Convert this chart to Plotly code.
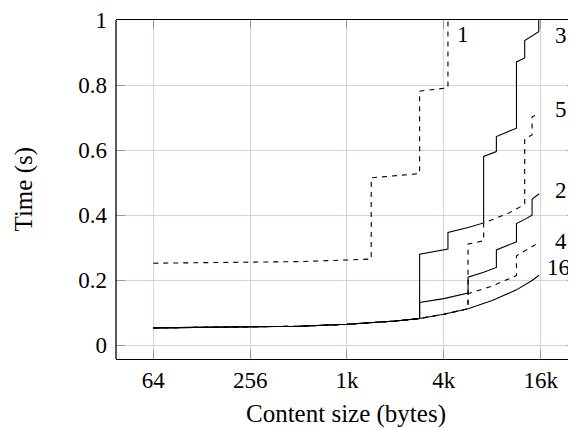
import numpy as np
import plotly.graph_objects as go

# ---- data (content size in bytes, time in seconds) ----
s1_x = [64, 128, 256, 512, 1024, 1448, 1448, 2048, 2896, 2896, 4344, 4344]
s1_y = [0.252, 0.253, 0.254, 0.257, 0.262, 0.265, 0.515, 0.521, 0.528, 0.782, 0.792, 1.2]

s5_x = [64, 128, 256, 512, 1024, 1448, 2048, 2896, 4096, 5792, 5792, 7240, 7240, 10240, 13032, 13032, 14480, 14480, 16000]
s5_y = [0.053, 0.054, 0.055, 0.058, 0.064, 0.068, 0.074, 0.082, 0.095, 0.112, 0.311, 0.321, 0.376, 0.405, 0.433, 0.635, 0.647, 0.703, 0.713]

s4_x = [64, 128, 256, 512, 1024, 1448, 2048, 2896, 4096, 5792, 5792, 8192, 11584, 11584, 14480, 16000]
s4_y = [0.053, 0.054, 0.055, 0.058, 0.064, 0.068, 0.074, 0.082, 0.095, 0.112, 0.158, 0.182, 0.214, 0.275, 0.302, 0.316]

s3_x = [64, 128, 256, 512, 1024, 1448, 2048, 2896, 2896, 4344, 4344, 5792, 7240, 7240, 8688, 8688, 10240, 11584, 11584, 13032, 13032, 15928, 15928]
s3_y = [0.053, 0.054, 0.055, 0.058, 0.064, 0.068, 0.074, 0.082, 0.280, 0.296, 0.347, 0.362, 0.376, 0.581, 0.596, 0.642, 0.656, 0.668, 0.872, 0.884, 0.938, 0.965, 1.2]

s2_x = [64, 128, 256, 512, 1024, 1448, 2048, 2896, 2896, 4096, 5792, 5792, 7240, 8688, 8688, 11584, 11584, 13032, 14480, 14480, 16000]
s2_y = [0.053, 0.054, 0.055, 0.058, 0.064, 0.068, 0.074, 0.082, 0.131, 0.143, 0.160, 0.209, 0.224, 0.239, 0.293, 0.318, 0.374, 0.387, 0.400, 0.449, 0.466]

s16_x = [64, 128, 256, 512, 1024, 1448, 2048, 2896, 4096, 5792, 8192, 11584, 14480, 16000]
s16_y = [0.053, 0.054, 0.055, 0.058, 0.064, 0.068, 0.074, 0.082, 0.095, 0.112, 0.137, 0.170, 0.199, 0.215]

x_tickvals = [64, 256, 1024, 4096, 16384]
x_ticktext = ["64", "256", "1k", "4k", "16k"]
y_tickvals = [0, 0.2, 0.4, 0.6, 0.8, 1.0]
y_ticktext = ["0", "0.2", "0.4", "0.6", "0.8", "1"]

series_names = ["1", "5", "4", "3", "2", "16"]

# ---- figure ----
FONT = "Liberation Serif"
fig = go.Figure()

dashed = [(s1_x, s1_y, "1"), (s5_x, s5_y, "5"), (s4_x, s4_y, "4")]
solid = [(s3_x, s3_y, "3"), (s2_x, s2_y, "2"), (s16_x, s16_y, "16")]
for xs, ys, nm in dashed:
    fig.add_trace(go.Scatter(x=xs, y=ys, mode="lines", name=nm,
                             line=dict(color="black", width=1.1, dash="5px,5px")))
for xs, ys, nm in solid:
    fig.add_trace(go.Scatter(x=xs, y=ys, mode="lines", name=nm,
                             line=dict(color="black", width=1.1)))

# curve labels (placed next to curve ends)
label_pos = {"1": (5360, 0.957), "3": (21980, 0.954), "5": (21980, 0.726),
             "2": (21980, 0.477), "4": (21980, 0.320), "16": (21000, 0.2385)}
for nm in ["1", "3", "5", "2", "4", "16"]:
    lx, ly = label_pos[nm]
    fig.add_annotation(x=np.log10(lx), y=ly, xref="x", yref="y", text=nm,
                       showarrow=False, xanchor="center", yanchor="middle",
                       borderpad=0,
                       font=dict(family=FONT, size=23, color="black"))

# axis titles
fig.add_annotation(x=0, y=0.5, xref="paper", yref="paper", text="Time (s)",
                   textangle=-90, showarrow=False, xshift=-93,
                   xanchor="center", yanchor="middle",
                   font=dict(family=FONT, size=25, color="black"))
fig.add_annotation(x=0.5, y=0, xref="paper", yref="paper", text="Content size (bytes)",
                   showarrow=False, yshift=-55, xanchor="center", yanchor="middle",
                   font=dict(family=FONT, size=25, color="black"))

# left axis line
fig.add_shape(type="line", xref="paper", yref="paper", x0=0, x1=0, y0=0, y1=1,
              line=dict(color="black", width=1.3))

grid = "#c9d5ea"
fig.update_xaxes(type="log", range=[1.5744, 4.4339],
                 tickvals=x_tickvals, ticktext=x_ticktext,
                 showgrid=True, gridcolor=grid, gridwidth=1.2,
                 ticks="inside", ticklen=9, tickcolor="#8e98a8", tickwidth=1.2,
                 showline=True, linecolor="black", linewidth=1.3, mirror="ticks",
                 ticklabelstandoff=0, zeroline=False, ticklabeloverflow="allow",
                 tickfont=dict(family=FONT, size=23, color="black"))
fig.update_yaxes(range=[-0.0429, 1.001],
                 tickvals=y_tickvals, ticktext=y_ticktext,
                 showgrid=True, gridcolor=grid, gridwidth=1.2,
                 ticks="inside", ticklen=9, tickcolor="#8e98a8", tickwidth=1.2,
                 showline=False, mirror="ticks", zeroline=False,
                 ticklabelstandoff=8, ticklabeloverflow="allow",
                 tickfont=dict(family=FONT, size=23, color="black"))

# page body has an 8px default margin: size the figure to fill the rest
fig.update_layout(width=568, height=420, showlegend=False,
                  margin=dict(l=108, r=0, t=10, b=69),
                  plot_bgcolor="white", paper_bgcolor="white")

fig.write_html("out.html")
